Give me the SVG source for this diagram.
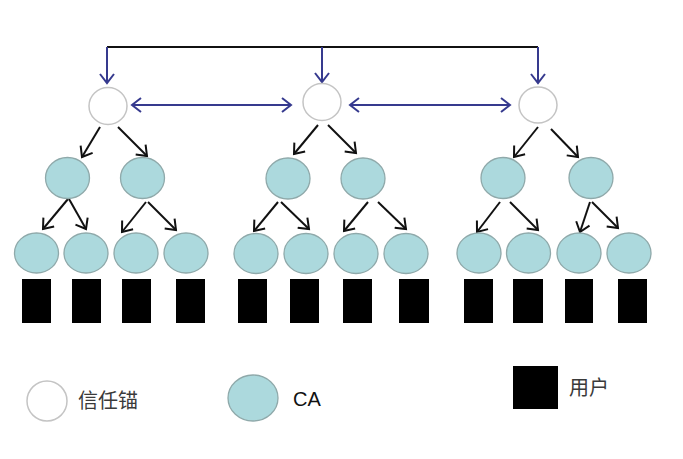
<svg xmlns="http://www.w3.org/2000/svg" width="683" height="459" viewBox="0 0 683 459">
<style>
.ta{fill:#ffffff;stroke:#c4c4c4;stroke-width:1.5}
.ca{fill:#acd9dd;stroke:#8fa9aa;stroke-width:1.3}
.u{fill:#000000}
.blk{stroke:#111111;stroke-width:2;fill:none;marker-end:url(#ab)}
.blue{stroke:#363a8e;stroke-width:2;fill:none}
.lbl{font-family:"Liberation Sans","Noto Sans CJK SC",sans-serif;font-size:20px;fill:#3a3a3a}
</style>
<defs>
<marker id="ab" markerUnits="userSpaceOnUse" markerWidth="20" markerHeight="20" refX="10" refY="10" orient="auto" viewBox="0 0 20 20">
<path d="M1,3 L10,10 L1,17" fill="none" stroke="#111111" stroke-width="2"/>
</marker>
<marker id="bb" markerUnits="userSpaceOnUse" markerWidth="20" markerHeight="20" refX="10" refY="10" orient="auto-start-reverse" viewBox="0 0 20 20">
<path d="M1,3 L10,10 L1,17" fill="none" stroke="#363a8e" stroke-width="2"/>
</marker>
</defs>
<rect width="683" height="459" fill="#ffffff"/>
<g id="connectors">
<path d="M107,47 H538" stroke="#111111" stroke-width="2" fill="none"/>
<path class="blue" d="M107,47 V83" marker-end="url(#bb)"/>
<path class="blue" d="M322,47 V82" marker-end="url(#bb)"/>
<path class="blue" d="M538,47 V83" marker-end="url(#bb)"/>
<path class="blue" d="M132,105 H291" marker-start="url(#bb)" marker-end="url(#bb)"/>
<path class="blue" d="M350,105 H510" marker-start="url(#bb)" marker-end="url(#bb)"/>
<path class="blk" d="M100,127 L82,157"/>
<path class="blk" d="M118,127 L147,156"/>
<path class="blk" d="M318,125 L294,154"/>
<path class="blk" d="M328,125 L356,153"/>
<path class="blk" d="M538,127 L514,157"/>
<path class="blk" d="M551,129 L578,157"/>
<path class="blk" d="M68,199 L43,229"/>
<path class="blk" d="M69,199 L86,229"/>
<path class="blk" d="M146,202 L122,232"/>
<path class="blk" d="M148,202 L176,230"/>
<path class="blk" d="M278,202 L254,231"/>
<path class="blk" d="M281,202 L309,229"/>
<path class="blk" d="M368,202 L344,231"/>
<path class="blk" d="M378,202 L406,229"/>
<path class="blk" d="M500,202 L477,232"/>
<path class="blk" d="M510,202 L538,230"/>
<path class="blk" d="M590,202 L580,232"/>
<path class="blk" d="M592,202 L618,228"/>
</g>
<g id="anchor1"><ellipse class="ta" cx="108" cy="106" rx="19" ry="18.5"/></g>
<g id="anchor2"><ellipse class="ta" cx="322" cy="102" rx="19" ry="18.5"/></g>
<g id="anchor3"><ellipse class="ta" cx="538" cy="105" rx="19" ry="18"/></g>
<g id="ca-1"><ellipse class="ca" cx="67.5" cy="178" rx="22" ry="20.5"/></g>
<g id="ca-2"><ellipse class="ca" cx="142.5" cy="178" rx="22" ry="20.5"/></g>
<g id="ca-3"><ellipse class="ca" cx="288" cy="178.5" rx="22" ry="20.5"/></g>
<g id="ca-4"><ellipse class="ca" cx="363" cy="178.5" rx="22" ry="20.5"/></g>
<g id="ca-5"><ellipse class="ca" cx="503" cy="178" rx="22" ry="20.5"/></g>
<g id="ca-6"><ellipse class="ca" cx="591" cy="178" rx="22" ry="20.5"/></g>
<g id="ca-1-1"><ellipse class="ca" cx="36.5" cy="253" rx="22" ry="20"/></g>
<g id="ca-1-2"><ellipse class="ca" cx="86" cy="253" rx="22" ry="20"/></g>
<g id="ca-2-1"><ellipse class="ca" cx="136" cy="253" rx="22" ry="20"/></g>
<g id="ca-2-2"><ellipse class="ca" cx="186" cy="253" rx="22" ry="20"/></g>
<g id="ca-3-1"><ellipse class="ca" cx="256" cy="253.5" rx="22" ry="20"/></g>
<g id="ca-3-2"><ellipse class="ca" cx="306" cy="253.5" rx="22" ry="20"/></g>
<g id="ca-4-1"><ellipse class="ca" cx="356" cy="253.5" rx="22" ry="20"/></g>
<g id="ca-4-2"><ellipse class="ca" cx="406" cy="253.5" rx="22" ry="20"/></g>
<g id="ca-5-1"><ellipse class="ca" cx="479" cy="253" rx="22" ry="20"/></g>
<g id="ca-5-2"><ellipse class="ca" cx="528.5" cy="253" rx="22" ry="20"/></g>
<g id="ca-6-1"><ellipse class="ca" cx="579" cy="253" rx="22" ry="20"/></g>
<g id="ca-6-2"><ellipse class="ca" cx="629" cy="253" rx="22" ry="20"/></g>
<g id="user-1"><rect class="u" x="22" y="279" width="29" height="44"/></g>
<g id="user-2"><rect class="u" x="72" y="279" width="29" height="44"/></g>
<g id="user-3"><rect class="u" x="122" y="279" width="29" height="44"/></g>
<g id="user-4"><rect class="u" x="176" y="279" width="29" height="44"/></g>
<g id="user-5"><rect class="u" x="238" y="279" width="29" height="44"/></g>
<g id="user-6"><rect class="u" x="290" y="279" width="29" height="44"/></g>
<g id="user-7"><rect class="u" x="343" y="279" width="29" height="44"/></g>
<g id="user-8"><rect class="u" x="399" y="279" width="30" height="44"/></g>
<g id="user-9"><rect class="u" x="464" y="279" width="29" height="44"/></g>
<g id="user-10"><rect class="u" x="513" y="279" width="30" height="44"/></g>
<g id="user-11"><rect class="u" x="565" y="279" width="28" height="44"/></g>
<g id="user-12"><rect class="u" x="618" y="279" width="29" height="44"/></g>
<g id="legend-anchor">
<ellipse class="ta" cx="47" cy="401" rx="20" ry="20"/>
<text class="lbl" x="78" y="408">信任锚</text>
</g>
<g id="legend-ca">
<ellipse class="ca" cx="253" cy="398" rx="25" ry="23"/>
<text class="lbl" x="293" y="406" style="fill:#111111">CA</text>
</g>
<g id="legend-user">
<rect class="u" x="513" y="366" width="45" height="43"/>
<text class="lbl" x="569" y="395">用户</text>
</g>
</svg>
